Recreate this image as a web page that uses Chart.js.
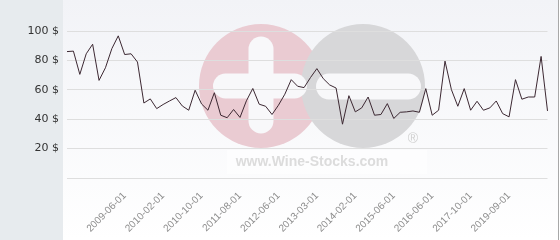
<!DOCTYPE html>
<html lang="en">
<head>
    <meta charset="UTF-8">
    <title>Wine price history</title>
    <script src="https://cdn.jsdelivr.net/npm/chart.js@4.4.1/dist/chart.umd.min.js"></script>
    <style>
        body {
            margin: 0;
            padding: 0;
            background: #ffffff;
        }

        .chart-box {
            width: 560px;
            height: 240px;
        }
    </style>
</head>
<body>
    <div class="chart-box">
        <canvas id="priceChart" width="560" height="240"></canvas>
    </div>

    <script>
        // Sale dates (only some of them are printed on the axis)
        const dates = [
            '2008-09-01', '2008-10-01', '2008-11-01', '2008-12-01', '2009-01-01', '2009-02-01', '2009-03-01', '2009-04-01', '2009-05-01',
            '2009-06-01', '2009-07-01', '2009-08-01', '2009-10-01', '2009-11-01', '2009-12-01',
            '2010-02-01', '2010-03-01', '2010-04-01', '2010-05-01', '2010-07-01', '2010-08-01',
            '2010-10-01', '2010-12-01', '2011-01-01', '2011-03-01', '2011-04-01', '2011-06-01',
            '2011-08-01', '2011-10-01', '2011-11-01', '2012-01-01', '2012-02-01', '2012-04-01',
            '2012-06-01', '2012-07-01', '2012-09-01', '2012-10-01', '2012-12-01', '2013-01-01',
            '2013-03-01', '2013-05-01', '2013-06-01', '2013-08-01', '2013-10-01', '2013-12-01',
            '2014-02-01', '2014-04-01', '2014-07-01', '2014-09-01', '2014-12-01', '2015-03-01',
            '2015-06-01', '2015-08-01', '2015-10-01', '2015-12-01', '2016-02-01', '2016-04-01',
            '2016-06-01', '2016-09-01', '2016-11-01', '2017-01-01', '2017-04-01', '2017-07-01',
            '2017-10-01', '2018-01-01', '2018-05-01', '2018-09-01', '2019-01-01', '2019-05-01',
            '2019-09-01', '2019-12-01', '2020-03-01', '2020-06-01', '2020-09-01', '2020-12-01', '2021-03-01'
        ];

        // Price in $
        const prices = [
            86, 86.3, 70.5, 84.5, 91, 66.4, 75, 88, 96.7, 84,
            84.5, 78.9, 51, 53.8, 47.2, 50, 52.4, 54.7, 49, 46.1,
            59.7, 50.4, 46.1, 58, 42.7, 41, 46.6, 41.2, 52.5, 60.9,
            50.2, 48.8, 43.2, 49.5, 57, 66.9, 62.4, 61.5, 68.3, 74.4,
            67.6, 63.3, 61.2, 36.6, 56, 45, 47.7, 55.1, 42.7, 43.2,
            50.6, 40.5, 44.7, 45, 45.6, 44.7, 60.8, 42.7, 46.1, 79.5,
            60.1, 48.8, 60.8, 46.1, 52.2, 46.1, 47.7, 52.4, 43.8, 41.6,
            66.9, 53.6, 55.1, 55.1, 82.7, 45.6
        ];

        // Dates shown under the axis
        const shownDates = [
            '2009-06-01', '2010-02-01', '2010-10-01', '2011-08-01', '2012-06-01', '2013-03-01',
            '2014-02-01', '2015-06-01', '2016-06-01', '2017-10-01', '2019-09-01'
        ];

        const yTicks = [0, 20, 40, 60, 80, 100];

        function roundBar(ctx, x1, x2, cy, h) {
            const r = h / 2;
            ctx.beginPath();
            ctx.arc(x1 + r, cy, r, Math.PI / 2, Math.PI * 1.5);
            ctx.arc(x2 - r, cy, r, -Math.PI / 2, Math.PI / 2);
            ctx.closePath();
            ctx.fill();
        }

        // Panel background + watermark, drawn before the grid
        const backgroundPlugin = {
            id: 'panelBackground',
            beforeDraw: function(chart) {
                const ctx = chart.ctx;
                ctx.save();

                ctx.fillStyle = '#e7ebee';
                ctx.fillRect(0, 0, 63, 240);

                const grad = ctx.createLinearGradient(0, 0, 0, 240);
                grad.addColorStop(0, '#f2f3f7');
                grad.addColorStop(1, '#ffffff');
                ctx.fillStyle = grad;
                ctx.fillRect(63, 0, 495, 240);

                ctx.fillStyle = '#a8a8a8';
                ctx.fillRect(558, 0, 1, 240);

                // logo circles
                ctx.fillStyle = '#eacbd2';
                ctx.beginPath();
                ctx.arc(261, 86, 62, 0, Math.PI * 2);
                ctx.fill();
                ctx.fillStyle = '#d7d7d9';
                ctx.beginPath();
                ctx.arc(363, 86, 62, 0, Math.PI * 2);
                ctx.fill();

                // plus and minus
                ctx.fillStyle = '#f8f8fa';
                roundBar(ctx, 213, 307, 86, 25);
                ctx.save();
                ctx.translate(261, 85);
                ctx.rotate(Math.PI / 2);
                roundBar(ctx, -48.5, 48.5, 0, 25);
                ctx.restore();
                roundBar(ctx, 316, 421, 86.5, 26);

                ctx.fillStyle = 'rgba(255, 255, 255, 0.5)';
                ctx.fillRect(227, 150, 200, 24);

                ctx.fillStyle = '#dcdcdc';
                ctx.font = 'bold 14px "Liberation Sans", Arial, sans-serif';
                ctx.textAlign = 'center';
                ctx.textBaseline = 'middle';
                ctx.fillText('www.Wine-Stocks.com', 312, 162);
                ctx.fillStyle = '#d0d0d0';
                ctx.font = '14px "Liberation Sans", Arial, sans-serif';
                ctx.fillText('\u00AE', 413, 139);

                ctx.restore();
            }
        };

        const ctx = document.getElementById('priceChart').getContext('2d');

        const chart = new Chart(ctx, {
            type: 'line',
            data: {
                labels: dates,
                datasets: [{
                    label: 'Price',
                    data: prices,
                    borderColor: '#3c2832',
                    borderWidth: 1,
                    pointRadius: 0,
                    tension: 0,
                    fill: false
                }]
            },
            options: {
                responsive: false,
                animation: false,
                layout: {
                    padding: {
                        top: 31,
                        right: 5,
                        bottom: 0,
                        left: 0
                    }
                },
                plugins: {
                    legend: {
                        display: false
                    },
                    tooltip: {
                        enabled: false
                    }
                },
                scales: {
                    x: {
                        offset: false,
                        grid: {
                            display: false
                        },
                        border: {
                            display: false
                        },
                        ticks: {
                            autoSkip: false,
                            minRotation: 45,
                            maxRotation: 45,
                            padding: 4,
                            color: '#8c8c8c',
                            font: {
                                family: '"Liberation Sans", Arial, sans-serif',
                                size: 10
                            },
                            callback: function(value, index) {
                                return shownDates.includes(dates[index]) ? dates[index] : '';
                            }
                        },
                        afterFit: function(scale) {
                            scale.height = 62;
                        }
                    },
                    y: {
                        min: yTicks[0],
                        max: yTicks[yTicks.length - 1],
                        grid: {
                            color: '#dedede',
                            lineWidth: 1,
                            drawTicks: false
                        },
                        border: {
                            display: false
                        },
                        afterBuildTicks: function(scale) {
                            scale.ticks = yTicks.map(v => ({ value: v }));
                        },
                        ticks: {
                            padding: 8,
                            color: '#333333',
                            font: {
                                family: '"DejaVu Sans", sans-serif',
                                size: 11
                            },
                            callback: function(value) {
                                return value === 0 ? '' : value + ' $';
                            }
                        },
                        afterFit: function(scale) {
                            scale.width = 67;
                        }
                    }
                }
            },
            plugins: [backgroundPlugin]
        });
    </script>
</body>
</html>
